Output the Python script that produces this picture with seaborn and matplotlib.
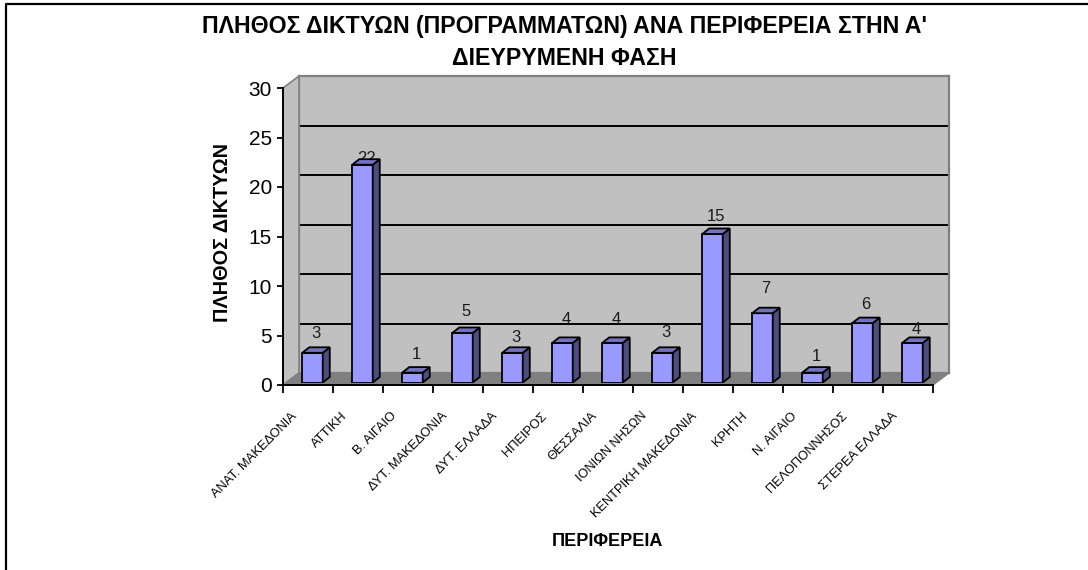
import matplotlib
matplotlib.use("Agg")
import matplotlib.pyplot as plt
from matplotlib.lines import Line2D
from matplotlib.patches import Polygon
import seaborn as sns
import pandas as pd

categories = ["ΑΝΑΤ. ΜΑΚΕΔΟΝΙΑ", "ΑΤΤΙΚΗ", "Β. ΑΙΓΑΙΟ", "ΔΥΤ. ΜΑΚΕΔΟΝΙΑ", "ΔΥΤ. ΕΛΛΑΔΑ",
              "ΗΠΕΙΡΟΣ", "ΘΕΣΣΑΛΙΑ", "ΙΟΝΙΩΝ ΝΗΣΩΝ", "ΚΕΝΤΡΙΚΗ ΜΑΚΕΔΟΝΙΑ", "ΚΡΗΤΗ",
              "Ν. ΑΙΓΑΙΟ", "ΠΕΛΟΠΟΝΝΗΣΟΣ", "ΣΤΕΡΕΑ ΕΛΛΑΔΑ"]
values = [3, 22, 1, 5, 3, 4, 4, 3, 15, 7, 1, 6, 4]
title_lines = ["ΠΛΗΘΟΣ ΔΙΚΤΥΩΝ (ΠΡΟΓΡΑΜΜΑΤΩΝ) ΑΝΑ ΠΕΡΙΦΕΡΕΙΑ ΣΤΗΝ Α'", "ΔΙΕΥΡΥΜΕΝΗ ΦΑΣΗ"]
ylabel = "ΠΛΗΘΟΣ ΔΙΚΤΥΩΝ"
xlabel = "ΠΕΡΙΦΕΡΕΙΑ"
yticks = [0, 5, 10, 15, 20, 25, 30]
label_gaps = [14, 1, 13, 16, 10, 18, 18, 15, 12, 19, 11, 13, 8]

sns.set_theme(style="white")
plt.rcParams["font.family"] = ["Liberation Sans", "DejaVu Sans"]
W, H = 1088, 570
fig = plt.figure(figsize=(W / 100, H / 100), dpi=100, facecolor="white")


def rect(x0, y0, x1, y1, **kw):
    return fig.add_axes([x0 / W, 1 - y1 / H, (x1 - x0) / W, (y1 - y0) / H], **kw)


def px(points):
    return [(x / W, 1 - y / H) for x, y in points]


# Chart frame: only its top and left edges fall inside the picture
fx, fy = zip(*px([(6, H + 2), (6, 3.5), (W + 2, 3.5)]))
fig.add_artist(Line2D(fx, fy, transform=fig.transFigure, color="black", lw=1.6))

# Back wall, same value scale as the front axis
back = rect(299, 76, 949, 373)
back.set_zorder(1)
back.set_facecolor("#C0C0C0")
back.set_xlim(0, 1)
back.set_ylim(0, 30)
back.set_xticks([])
back.set_yticks(yticks[1:-1])
back.tick_params(left=False, labelleft=False)
back.grid(axis="y", color="black", lw=1.4)
for s in back.spines.values():
    s.set_color("#808080")
    s.set_linewidth(1.6)

# Side wall and floor
fig.add_artist(Polygon(px([(283, 88), (299, 76), (299, 373), (283, 385)]), transform=fig.transFigure,
                       fc="#C0C0C0", ec="#808080", lw=1.2, zorder=2))
fig.add_artist(Polygon(px([(283, 385), (299, 373), (949, 373), (933, 385)]), transform=fig.transFigure,
                       fc="#808080", ec="#808080", lw=1, zorder=2))

# Front axis
front = rect(283, 88, 933, 385)
front.set_zorder(3)
front.patch.set_alpha(0)
front.set_xlim(-0.5, 12.5)
front.set_ylim(0, 30)
front.set_yticks(yticks)
front.set_xticks([i - 0.5 for i in range(14)])
front.set_xticklabels([])
front.tick_params(axis="x", length=5.5, width=1.3, color="black", bottom=True)
front.tick_params(axis="y", length=4.3, width=1.3, color="black", left=True, pad=3.6,
                  labelsize=15, labelcolor="black")
for name, s in front.spines.items():
    s.set_visible(name in ("left", "bottom"))
    s.set_color("black")
    s.set_linewidth(1.4)

# Bars, shifted into the depth of the floor
bars = rect(287.5, 85.5, 937.5, 382.5)
bars.set_zorder(4)
bars.patch.set_alpha(0)
df = pd.DataFrame({"region": categories, "count": values})
sns.barplot(data=df, x="region", y="count", ax=bars, width=0.41, color="#9999FF", saturation=1,
            edgecolor="black", linewidth=1.3, zorder=3)
bars.set_xlim(-0.5, 12.5)
bars.set_ylim(0, 30)
bars.axis("off")
ddx, ddy = 7 / 50, 5.5 / 9.9
for p, gap in zip(list(bars.patches), label_gaps):
    x0, w, h = p.get_x(), p.get_width(), p.get_height()
    x1 = x0 + w
    bars.add_patch(Polygon([(x1, 0), (x1 + ddx, ddy), (x1 + ddx, h + ddy), (x1, h)],
                           fc="#4D4D80", ec="black", lw=1.3, zorder=3, clip_on=False))
    bars.add_patch(Polygon([(x0, h), (x0 + ddx, h + ddy), (x1 + ddx, h + ddy), (x1, h)],
                           fc="#7373BF", ec="black", lw=1.3, zorder=3, clip_on=False))
    bars.annotate(f"{h:g}", (x0 + w / 2 + ddx / 2, h + ddy), xytext=(0, gap), textcoords="offset pixels",
                  ha="center", va="center", fontsize=12, color="#1a1a1a", zorder=2 if gap < 5 else 5)

# Slanted category labels
for i, label in enumerate(categories):
    front.annotate(label, (i + 0.02, 0), xytext=(-18, -25), textcoords="offset pixels",
                   rotation=45, rotation_mode="anchor", ha="right", va="top",
                   fontsize=9.3, color="black", annotation_clip=False)

for line, y in zip(title_lines, (33, 65)):
    fig.text(564 / W, 1 - y / H, line, ha="center", va="baseline", fontsize=16.7,
             fontweight="bold", color="black")
fig.text(222.5 / W, 1 - 233 / H, ylabel, rotation=90, ha="center", va="center", fontsize=14.3,
         fontweight="bold", color="black")
fig.text(607.5 / W, 1 - 542 / H, xlabel, ha="center", va="center", fontsize=13,
         fontweight="bold", color="black")

fig.savefig("out.png", dpi=100, facecolor="white")
